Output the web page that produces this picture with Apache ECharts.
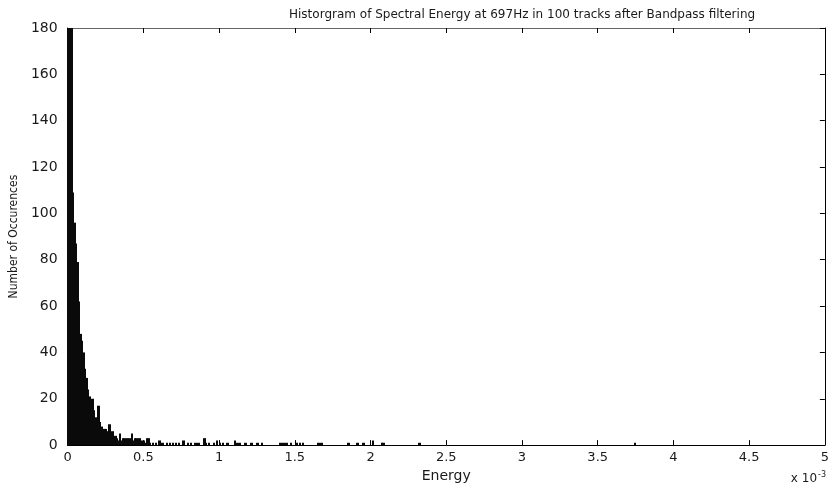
<!DOCTYPE html>
<html>
<head>
<meta charset="utf-8">
<script src="https://cdn.jsdelivr.net/npm/echarts@6/dist/echarts.min.js"></script>
<style>
  html, body { margin: 0; padding: 0; background: #fff; }
  #chart { width: 832px; height: 488px; }
</style>
</head>
<body>
<div id="chart"></div>
<script>
// energy in units of 1e-3, bin width 0.01
var binWidth = 0.01
// counts for bins 0..56 (dense part near zero)
var headCounts = [300, 250, 200, 109, 96, 87, 79, 62, 48, 45,
  40, 33, 29, 24, 21, 19, 20, 15, 12, 11,
  17, 10, 8, 7, 7, 7, 6, 9, 5, 6,
  3, 4, 3, 2, 5, 2, 3, 3, 2, 3,
  2, 3, 5, 2, 3, 3, 2, 3, 1, 2,
  2, 1, 3, 3, 1, 0, 1]
// sparse tail: bin index and count
var tailBins = [58, 60, 62, 65, 67, 69, 71, 73, 76, 79, 81, 84, 86, 90, 91, 93, 96, 98, 100,
  102, 105, 110, 111, 113, 117, 121, 125, 128, 140, 142, 144, 147, 151, 153, 155, 165, 167,
  185, 191, 195, 201, 207, 208, 232, 374]
var tailCounts = [1, 2, 1, 1, 1, 1, 1, 1, 2, 1, 1, 1, 1, 3, 1, 1, 1, 2, 1,
  1, 1, 2, 1, 1, 1, 1, 1, 1, 1, 1, 1, 1, 1, 1, 1, 1, 1,
  1, 1, 1, 2, 1, 1, 1, 1]
var xTicks = [0, 0.5, 1, 1.5, 2, 2.5, 3, 3.5, 4, 4.5, 5]

var bars = []
headCounts.forEach(function (c, i) {
  if (c > 0) bars.push([i * binWidth, (i + 1) * binWidth, c])
})
tailBins.forEach(function (b, k) {
  bars.push([b * binWidth, (b + 1) * binWidth, tailCounts[k]])
})

var txt = '#1a1a1a'
var font = 'DejaVu Sans'

var chart = echarts.init(document.getElementById('chart'))
chart.setOption({
  backgroundColor: '#fff',
  animation: false,
  title: {
    text: 'Historgram of Spectral Energy at 697Hz in 100 tracks after Bandpass filtering',
    left: 284,
    top: 4,
    textStyle: { fontFamily: font, fontSize: 12, fontWeight: 'normal', color: txt }
  },
  grid: { left: 66, right: 5, top: 28, bottom: 42 },
  xAxis: [{
    type: 'value',
    min: 0,
    max: 5,
    interval: 0.5,
    name: 'Energy',
    nameLocation: 'middle',
    nameGap: 11,
    nameTextStyle: { fontFamily: font, fontSize: 14, color: txt },
    axisLine: { lineStyle: { color: '#000', width: 1 } },
    axisTick: { inside: true, length: 5, lineStyle: { color: '#000' } },
    axisLabel: {
      margin: 6, fontFamily: font, fontSize: 13, color: txt,
      formatter: function (v) { return xTicks.indexOf(v) >= 0 ? String(v) : '' }
    },
    splitLine: { show: false }
  }, {
    type: 'value',
    position: 'top',
    min: 0,
    max: 5,
    interval: 0.5,
    axisLine: { show: true, onZero: false, lineStyle: { color: '#666', width: 1 } },
    axisTick: { show: true, inside: true, length: 5, lineStyle: { color: '#000' } },
    axisLabel: { show: false },
    splitLine: { show: false }
  }],
  yAxis: [{
    type: 'value',
    min: 0,
    max: 180,
    interval: 20,
    name: 'Number of Occurences',
    nameLocation: 'middle',
    nameGap: 38,
    nameTextStyle: { fontFamily: '"DejaVu Sans Condensed", "Liberation Sans", sans-serif', fontSize: 12, color: txt },
    axisLine: { show: true, lineStyle: { color: '#000', width: 1 } },
    axisTick: { show: true, inside: true, length: 5, lineStyle: { color: '#000' } },
    axisLabel: { margin: 10, fontFamily: font, fontSize: 14, color: txt },
    splitLine: { show: false }
  }, {
    type: 'value',
    position: 'right',
    min: 0,
    max: 180,
    interval: 20,
    axisLine: { show: true, onZero: false, lineStyle: { color: '#000', width: 1 } },
    axisTick: { show: true, inside: true, length: 5, lineStyle: { color: '#000' } },
    axisLabel: { show: false },
    splitLine: { show: false }
  }],
  graphic: [{
    type: 'text',
    right: 6,
    bottom: 3,
    style: {
      text: 'x 10{s|-3}',
      fontFamily: font,
      fontSize: 12,
      fill: txt,
      rich: { s: { fontSize: 8, verticalAlign: 'top', padding: [0, 0, 8, 1], fontFamily: font } }
    }
  }],
  series: [{
    type: 'custom',
    clip: true,
    renderItem: function (params, api) {
      var p0 = api.coord([api.value(0), api.value(2)])
      var p1 = api.coord([api.value(1), 0])
      var x = Math.floor(p0[0])
      return {
        type: 'rect',
        shape: { x: x, y: p0[1], width: Math.ceil(p1[0]) - x, height: p1[1] - p0[1] },
        style: { fill: '#0a0a0a' }
      }
    },
    encode: { x: [0, 1], y: 2 },
    data: bars
  }, {
    // invisible series bound to the top and right axes so their ticks get drawn
    type: 'scatter',
    xAxisIndex: 1,
    yAxisIndex: 1,
    silent: true,
    symbolSize: 0,
    itemStyle: { opacity: 0 },
    data: [[0, 0]]
  }]
})
</script>
</body>
</html>
